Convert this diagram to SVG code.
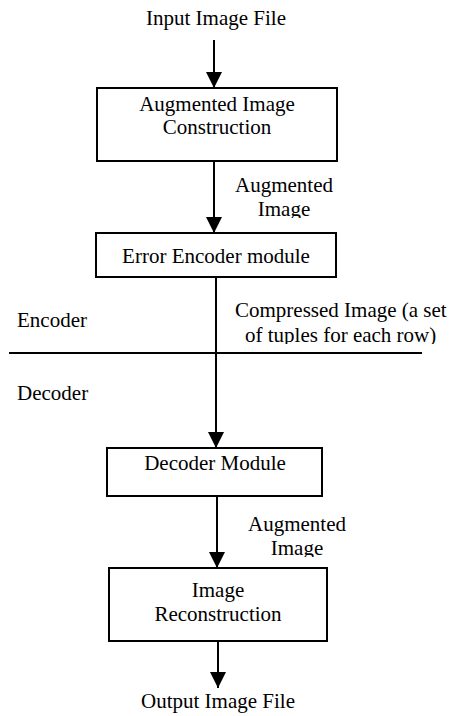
<svg xmlns="http://www.w3.org/2000/svg" width="449" height="716" viewBox="0 0 449 716" font-family="Liberation Serif, Times New Roman, serif">
<style>
text { font-family: "Liberation Serif", "Times New Roman", serif; font-size: 21px; fill: #000; }
.c { text-anchor: middle; }
.box { fill: #fff; stroke: #000; stroke-width: 2; }
.ln { stroke: #000; stroke-width: 2; fill: none; }
</style>
<defs>
<marker id="ah" viewBox="0 0 10 10" refX="10" refY="5" markerWidth="16" markerHeight="16" markerUnits="userSpaceOnUse" orient="auto">
<path d="M0,0 L10,5 L0,10 z" fill="#000"/>
</marker>
<clipPath id="clipA"><rect x="0" y="0" width="449" height="218"/></clipPath>
<clipPath id="clipB"><rect x="0" y="0" width="449" height="344"/></clipPath>
<clipPath id="clipC"><rect x="0" y="0" width="449" height="557"/></clipPath>
</defs>
<g id="connectors">
<line class="ln" x1="214" y1="40" x2="214" y2="88" marker-end="url(#ah)"/>
<line class="ln" x1="214" y1="161" x2="214" y2="233" marker-end="url(#ah)"/>
<line class="ln" x1="216" y1="277" x2="216" y2="448" marker-end="url(#ah)"/>
<line class="ln" x1="217" y1="496" x2="217" y2="568" marker-end="url(#ah)"/>
<line class="ln" x1="218" y1="641" x2="218" y2="688" marker-end="url(#ah)"/>
<line class="ln" x1="9" y1="353" x2="422" y2="353"/>
</g>
<g id="input"><text class="c" x="216" y="25">Input Image File</text></g>
<g id="augmented-construction">
<rect class="box" x="97" y="88" width="240" height="73"/>
<text class="c" x="217" y="111">Augmented Image</text>
<text class="c" x="217" y="134">Construction</text>
</g>
<g id="label-augmented-1" clip-path="url(#clipA)">
<text class="c" x="284" y="192">Augmented</text>
<text class="c" x="284" y="216">Image</text>
</g>
<g id="error-encoder">
<rect class="box" x="96" y="233" width="240" height="44"/>
<text class="c" x="216" y="263">Error Encoder module</text>
</g>
<g id="label-encoder"><text x="17" y="327">Encoder</text></g>
<g id="label-compressed" clip-path="url(#clipB)">
<text x="235" y="317">Compressed Image (a set</text>
<text x="245" y="342">of tuples for each row)</text>
</g>
<g id="label-decoder"><text x="17" y="400">Decoder</text></g>
<g id="decoder-module">
<rect class="box" x="107" y="448" width="215" height="48"/>
<text class="c" x="215" y="470">Decoder Module</text>
</g>
<g id="label-augmented-2" clip-path="url(#clipC)">
<text class="c" x="297" y="531">Augmented</text>
<text class="c" x="297" y="555">Image</text>
</g>
<g id="image-reconstruction">
<rect class="box" x="109" y="568" width="218" height="73"/>
<text class="c" x="218" y="597">Image</text>
<text class="c" x="218" y="621">Reconstruction</text>
</g>
<g id="output"><text class="c" x="218" y="708">Output Image File</text></g>
</svg>
